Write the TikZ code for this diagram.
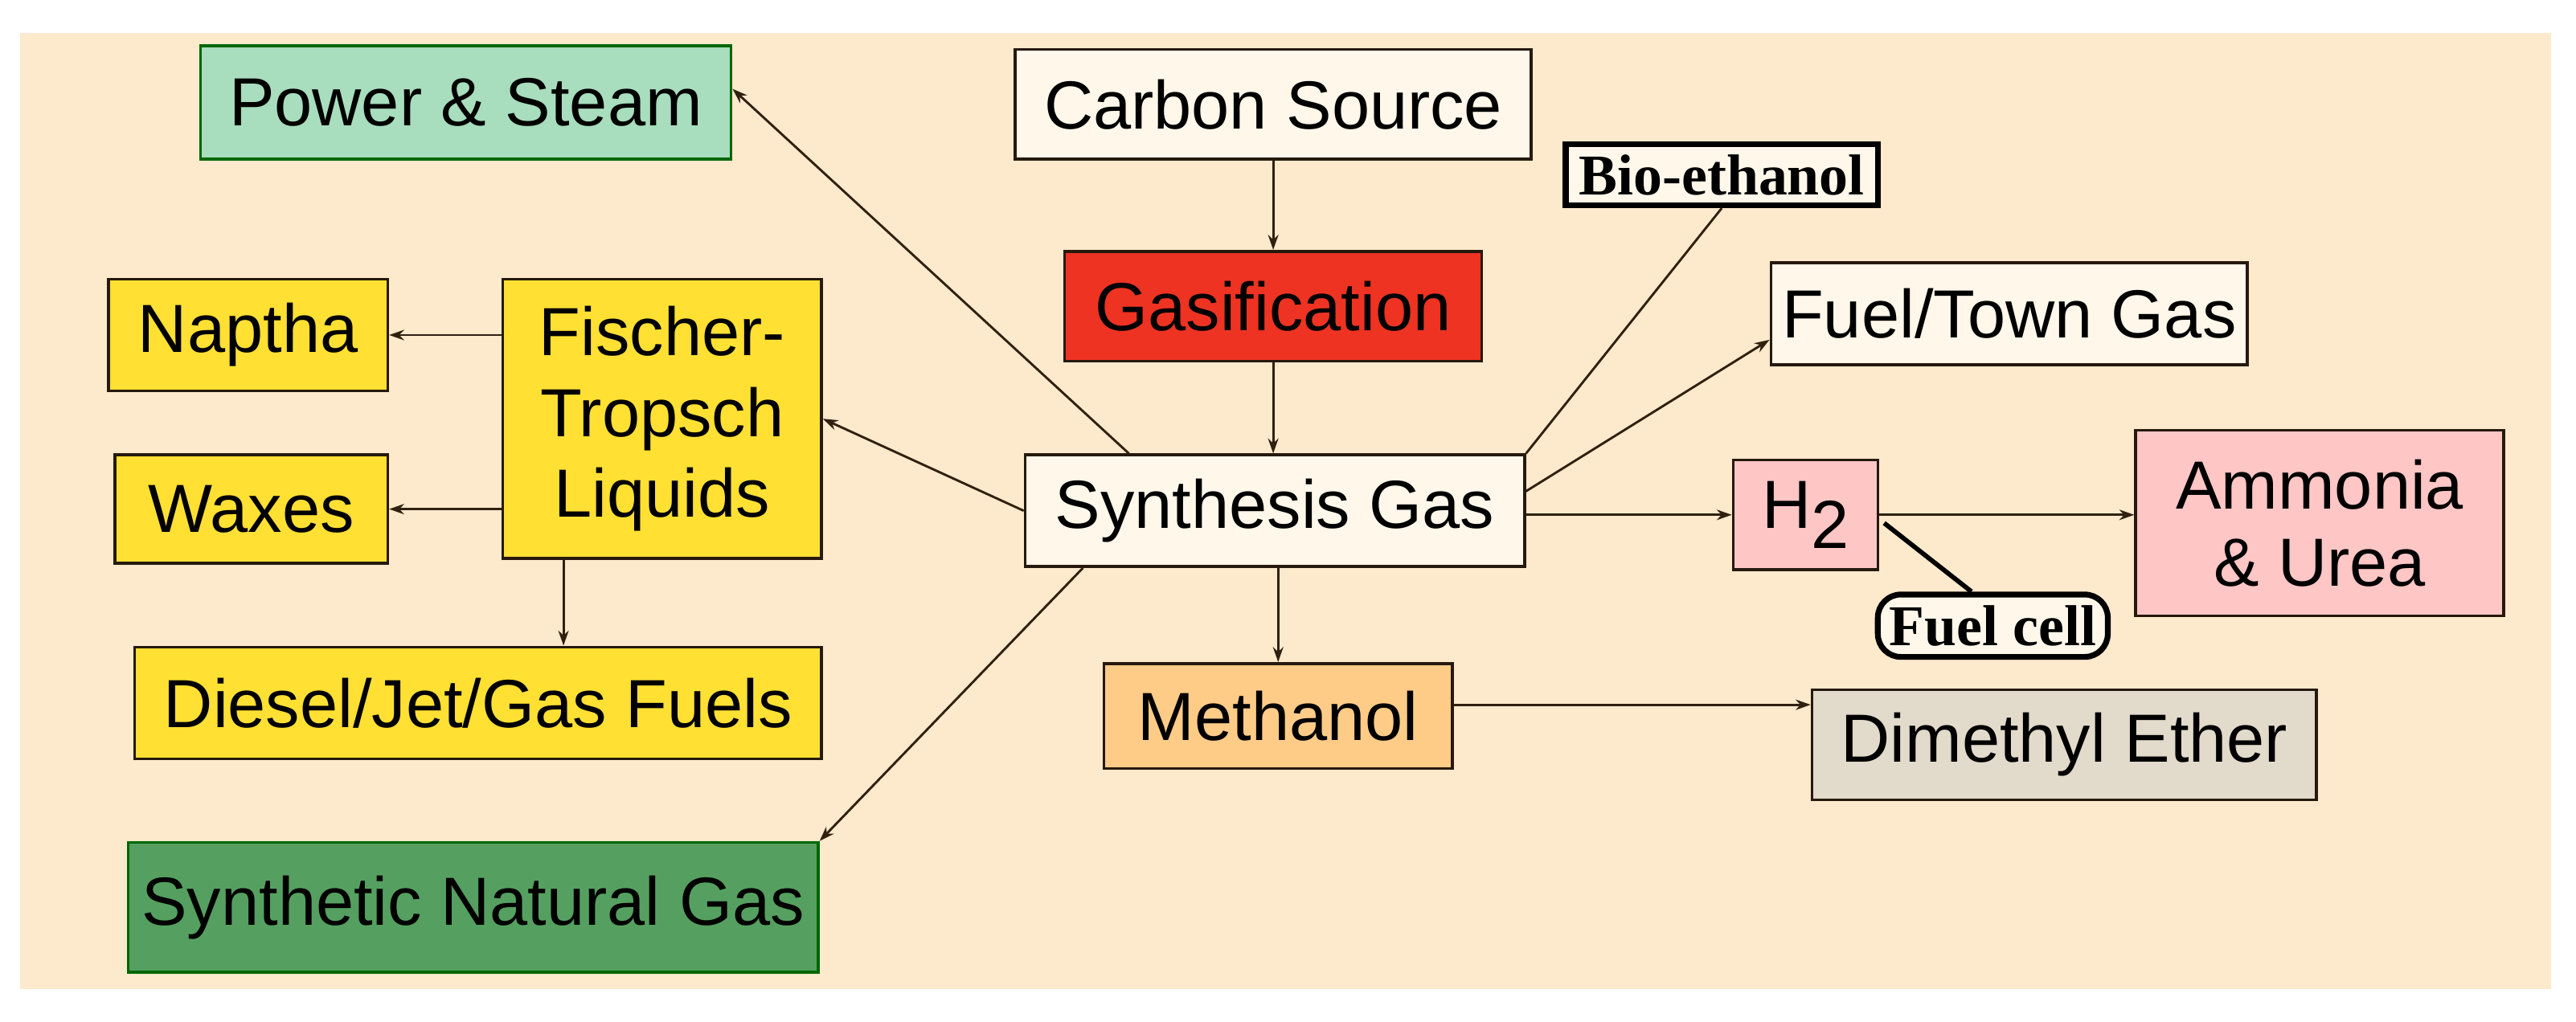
\documentclass[tikz,border=0pt]{standalone}
\usepackage{fontspec}
\setmainfont{Liberation Sans}
\newfontfamily\tms{Liberation Serif}
\usetikzlibrary{arrows.meta}
\definecolor{bgc}{HTML}{FDE9CC}
\definecolor{psc}{HTML}{A8DDBE}
\definecolor{yel}{HTML}{FFE033}
\definecolor{redc}{HTML}{EE3322}
\definecolor{pinkc}{HTML}{FFC6C6}
\definecolor{orc}{HTML}{FFCC88}
\definecolor{dmec}{HTML}{E2DACB}
\definecolor{sngc}{HTML}{55A060}
\definecolor{crm}{HTML}{FFF7EA}
\begin{document}
\begin{tikzpicture}[x=0.1cm,y=-0.1cm,
  box/.style={draw=black!80!brown,line width=5pt,inner sep=0pt,align=center,
    font=\fontsize{118}{140}\selectfont},
  tag/.style={draw=black,line width=10pt,inner sep=0pt,align=center,fill=crm,
    font=\tms\bfseries\fontsize{100}{100}\selectfont},
  arr/.style={line width=4pt,draw=black!75!brown,-{Stealth[length=26pt,width=18pt]}},
  ln/.style={line width=4pt,draw=black!75!brown}]
\useasboundingbox (0,0) rectangle (1568,622);
\fill[white] (0,0) rectangle (1568,622);
\fill[bgc] (12,20) rectangle (1553,602);
\node[box,fill=psc,draw=black!60!green,minimum width=32.3cm,minimum height=6.9cm] (PS) at (283.5,62.5) {Power \& Steam};
\node[box,fill=crm,minimum width=31.4cm,minimum height=6.7cm] (CS) at (775,63.5) {Carbon Source};
\node[box,fill=redc,minimum width=25.4cm,minimum height=6.7cm] (GA) at (775,186.5) {Gasification};
\node[tag,minimum width=19cm,minimum height=3.7cm] (BE) at (1048,106.5) {Bio-ethanol};
\node[box,fill=crm,minimum width=29cm,minimum height=6.2cm] (FTG) at (1223,191) {Fuel/Town Gas};
\node[box,fill=yel,minimum width=17cm,minimum height=6.8cm] (NA) at (151,204) {Naptha};
\node[box,fill=yel,minimum width=19.4cm,minimum height=17cm] (FT) at (403,255) {Fischer-\\Tropsch\\Liquids};
\node[box,fill=yel,minimum width=16.6cm,minimum height=6.6cm] (WX) at (153,310) {Waxes};
\node[box,fill=crm,minimum width=30.4cm,minimum height=6.8cm] (SG) at (776,311) {Synthesis Gas};
\node[box,fill=pinkc,minimum width=8.8cm,minimum height=6.7cm] (H2) at (1099,313.5) {H\raisebox{-0.3em}{2}};
\node[box,fill=pinkc,minimum width=22.4cm,minimum height=11.3cm,font=\fontsize{118}{134}\selectfont] (AU) at (1412,318.5) {Ammonia\\\& Urea};
\node[tag,rounded corners=40pt,minimum width=14cm,minimum height=3.8cm] (FC) at (1213,381) {Fuel cell};
\node[box,fill=yel,minimum width=41.8cm,minimum height=6.8cm] (DJ) at (291,428) {Diesel/Jet/Gas Fuels};
\node[box,fill=orc,minimum width=21.2cm,minimum height=6.4cm] (ME) at (778,436) {Methanol};
\node[box,fill=dmec,minimum width=30.7cm,minimum height=6.7cm] (DME) at (1256.5,453.5) {Dimethyl Ether};
\node[box,fill=sngc,draw=black!60!green,minimum width=42cm,minimum height=7.9cm] (SNG) at (288,552.5) {Synthetic Natural Gas};
% connectors
\draw[arr] (CS.south) -- (GA.north);
\draw[arr] (GA.south) -- (GA.south |- SG.north);
\draw[arr] ([xshift=6.4cm]SG.north west) -- ([yshift=-2.7cm]PS.north east);
\draw[arr] (SG.west) -- (FT.east);
\draw[arr] (FT.west |- NA.east) -- (NA.east);
\draw[arr] (FT.west |- WX.east) -- (WX.east);
\draw[arr] ([xshift=-6cm]FT.south) -- ([xshift=-6cm]FT.south |- DJ.north);
\draw[arr] ([xshift=3.6cm]SG.south west) -- (SNG.north east);
\draw[arr] (SG.south -| ME.north) -- (ME.north);
\draw[ln] (SG.north east) -- (BE.south);
\draw[arr] ([yshift=-2.3cm]SG.north east) -- ([yshift=1.6cm]FTG.south west);
\draw[arr] (SG.east |- H2.west) -- (H2.west);
\draw[arr] (H2.east) -- (H2.east -| AU.west);
\draw[line width=8pt] ([xshift=0.3cm,yshift=-0.5cm]H2.east) -- ([xshift=-1.3cm]FC.north);
\draw[arr] ([yshift=-2.6cm]ME.north east) -- ([yshift=-2.6cm]ME.north east -| DME.west);
\end{tikzpicture}
\end{document}
